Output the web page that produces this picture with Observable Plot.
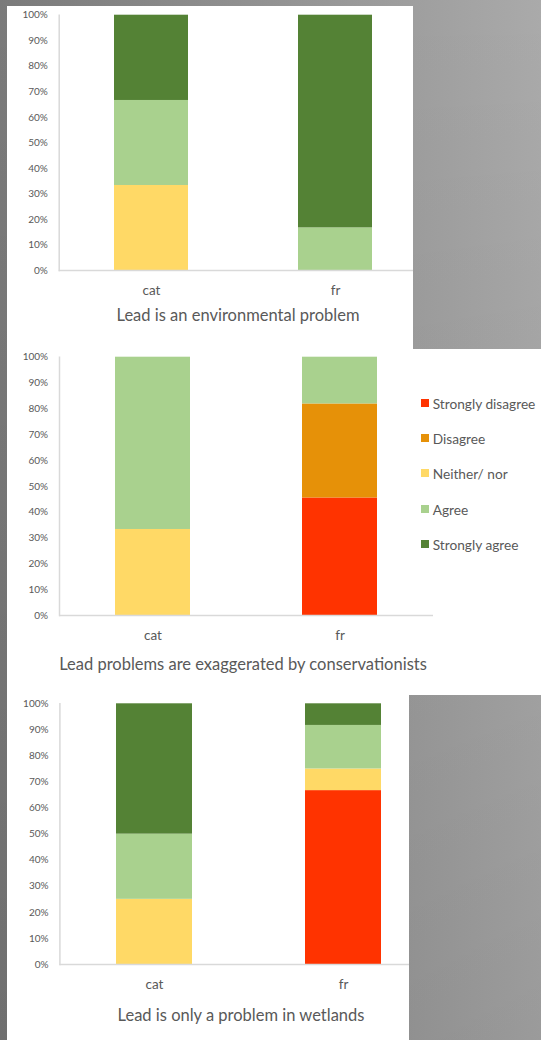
<!DOCTYPE html>
<html><head><meta charset="utf-8">
<script src="https://cdn.jsdelivr.net/npm/d3@7"></script>
<script src="https://cdn.jsdelivr.net/npm/@observablehq/plot@0.6"></script>
<style>
html,body{margin:0;padding:0;}
body{width:541px;height:1040px;position:relative;overflow:hidden;font-family:Lato,sans-serif;
background: linear-gradient(to bottom, rgba(0,0,0,0), rgba(0,0,0,0.09)), linear-gradient(to right,#7a7a7a,#aaaaaa);}
.panel{position:absolute;background:#fff;overflow:hidden;}
.panel svg{position:absolute;left:0;top:0;max-width:none !important;}
.title{position:absolute;transform:translate(-50%,-50%);white-space:nowrap;color:#595959;font-size:16.5px;}
.lg{position:absolute;white-space:nowrap;color:#595959;font-size:13.7px;transform:translateY(-50%);}
.sw{position:absolute;width:8px;height:8px;transform:translateY(-50%);}
</style>
</head><body>
<div id="p1" class="panel" style="left:7px;top:6px;width:406px;height:343px"></div>
<div id="p2" class="panel" style="left:7px;top:349px;width:534px;height:346px"></div>
<div id="p3" class="panel" style="left:7px;top:695px;width:402px;height:345px"></div>
<script>
const responses = ["Strongly disagree","Disagree","Neither/ nor","Agree","Strongly agree"];
const responseColors = ["#ff3300","#e69108","#ffd966","#a9d18e","#548235"];
const groups = ["cat","fr"];
const yTickValues = [0,10,20,30,40,50,60,70,80,90,100];
const titles = ["Lead is an environmental problem","Lead problems are exaggerated by conservationists","Lead is only a problem in wetlands"];
// percentages per group, in response order (Strongly disagree ... Strongly agree)
const q1Cat = [0,0,33.3,33.3,33.4];
const q1Fr  = [0,0,0,16.7,83.3];
const q2Cat = [0,0,33.3,66.7,0];
const q2Fr  = [45.5,36.4,0,18.1,0];
const q3Cat = [0,0,25,25,50];
const q3Fr  = [66.7,0,8.3,16.7,8.3];

const layouts = [
  {id:"p1", values:[q1Cat,q1Fr], w:430, h:300, ml:51.7, xEnd:419.7, yTop:8.7, yBot:264, tx:231, ty:309},
  {id:"p2", values:[q2Cat,q2Fr], w:440, h:300, ml:52, xEnd:426, yTop:7.7, yBot:266, tx:236, ty:315},
  {id:"p3", values:[q3Cat,q3Fr], w:440, h:300, ml:52.4, xEnd:430.4, yTop:8.3, yBot:269, tx:234, ty:320}
];

layouts.forEach((p,i)=>{
  const data = [];
  groups.forEach((g,gi)=>responses.forEach((r,ri)=>data.push({group:g,response:r,value:p.values[gi][ri]})));
  const chart = Plot.plot({
    width:p.w, height:p.h,
    marginLeft:p.ml, marginRight:p.w-p.xEnd, marginTop:p.yTop, marginBottom:p.h-p.yBot,
    x:{domain:groups, paddingInner:0.6, paddingOuter:0.3, label:null},
    y:{domain:[0,100], label:null},
    color:{domain:responses, range:responseColors},
    style:{fontFamily:"Lato, sans-serif", background:"transparent", color:"#595959", overflow:"visible", maxWidth:"none"},
    marks:[
      Plot.barY(data,{x:"group", y:"value", fill:"response"}),
      Plot.ruleY([0],{stroke:"#d9d9d9", strokeWidth:1.5}),
      Plot.frame({anchor:"left", stroke:"#d9d9d9", strokeWidth:1.5}),
      Plot.axisY({ticks:yTickValues, tickSize:0, tickPadding:11.4, tickFormat:d=>d+"%", fontSize:10, label:null}),
      Plot.axisX({tickSize:0, tickPadding:15, fontSize:13.5, label:null})
    ]
  });
  const div = document.getElementById(p.id);
  div.appendChild(chart);
  const t = document.createElement("div");
  t.className = "title";
  t.textContent = titles[i];
  t.style.left = p.tx+"px"; t.style.top = p.ty+"px";
  div.appendChild(t);
});

// legend in panel 2
const legendRows = [53.7, 89.3, 124.3, 160, 195.3];
const p2 = document.getElementById("p2");
responses.forEach((r,i)=>{
  const s = document.createElement("div");
  s.className = "sw"; s.style.left = "414px"; s.style.top = legendRows[i]+"px"; s.style.background = responseColors[i];
  p2.appendChild(s);
  const l = document.createElement("div");
  l.className = "lg"; l.style.left = "425.7px"; l.style.top = legendRows[i]+"px"; l.textContent = r;
  p2.appendChild(l);
});
</script>
</body></html>
